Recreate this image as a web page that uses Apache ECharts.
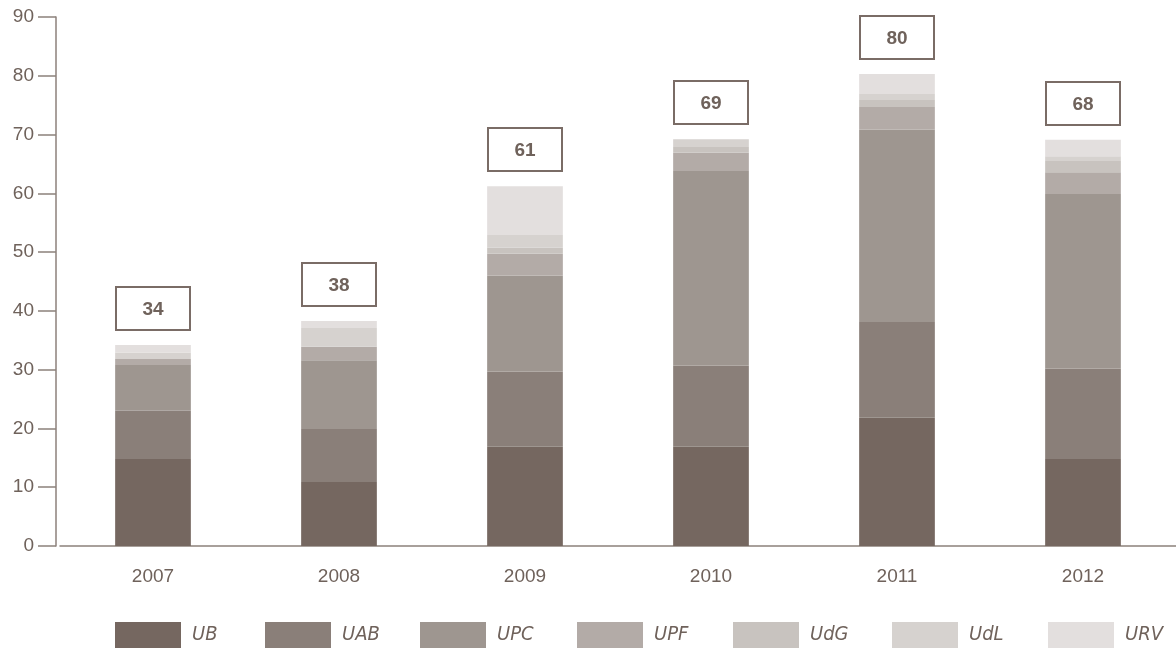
<!DOCTYPE html>
<html>
<head>
<meta charset="utf-8">
<script src="https://cdn.jsdelivr.net/npm/echarts@6/dist/echarts.min.js"></script>
<style>
html,body{margin:0;padding:0;background:#fff;}
#chart{width:1176px;height:648px;}
</style>
</head>
<body>
<div id="chart"></div>
<script>
const categories = ['2007', '2008', '2009', '2010', '2011', '2012'];
const seriesNames = ['UB', 'UAB', 'UPC', 'UPF', 'UdG', 'UdL', 'URV'];
const UB  = [14.8, 10.9, 16.9, 16.9, 21.8, 14.8];
const UAB = [8.2, 9.0, 12.8, 13.8, 16.3, 15.4];
const UPC = [7.8, 11.7, 16.3, 33.1, 32.7, 29.7];
const UPF = [1.0, 2.3, 3.7, 3.1, 3.9, 3.7];
const UdG = [0, 0, 1.1, 1.0, 1.2, 1.9];
const UdL = [1.1, 3.2, 2.1, 1.3, 1.0, 0.8];
const URV = [1.3, 1.2, 8.3, 0, 3.4, 2.8];
const totals = [34, 38, 61, 69, 80, 68];
const yTicks = [0, 10, 20, 30, 40, 50, 60, 70, 80, 90];

const colors = ['#756760', '#8a7f79', '#9e9690', '#b3aba7', '#c8c3bf', '#d6d2cf', '#e3dfde'];
const textColor = '#6f625b';
const axisColor = '#8c817b';
const font = '"Liberation Sans", Arial, Helvetica, sans-serif';
const narrowFont = '"Liberation Sans Narrow", "DejaVu Sans Condensed", "Liberation Sans", sans-serif';

const seriesData = [UB, UAB, UPC, UPF, UdG, UdL, URV];
const barTops = categories.map((c, i) => seriesData.reduce((s, arr) => s + arr[i], 0));

const series = seriesNames.map((name, k) => ({
  name: name,
  type: 'bar',
  stack: 'total',
  barWidth: '40.7%',
  itemStyle: { color: colors[k] },
  emphasis: { disabled: true },
  data: seriesData[k]
}));

series.push({
  name: 'total',
  type: 'custom',
  silent: true,
  z: 5,
  data: barTops.map((v, i) => [i, v, totals[i]]),
  renderItem: function (params, api) {
    const p = api.coord([api.value(0), api.value(1)]);
    const w = 74, h = 43, gap = 15;
    const x = Math.round(p[0] - w / 2), y = Math.round(p[1] - gap - h);
    return {
      type: 'group',
      children: [
        {
          type: 'rect',
          shape: { x: x, y: y, width: w, height: h },
          style: { fill: '#fff', stroke: '#7a6c66', lineWidth: 2 }
        },
        {
          type: 'text',
          style: {
            x: x + w / 2,
            y: y + h / 2 + 1,
            text: String(api.value(2)),
            fill: textColor,
            font: 'bold 19px ' + font,
            textAlign: 'center',
            textVerticalAlign: 'middle'
          }
        }
      ]
    };
  }
});

const legendLefts = [115, 265, 420, 577, 733, 892, 1048];
const legends = seriesNames.map((name, k) => ({
  data: [name],
  left: legendLefts[k],
  top: 622,
  padding: 0,
  icon: 'rect',
  itemWidth: 66,
  itemHeight: 26,
  selectedMode: false,
  textStyle: {
    color: textColor,
    fontSize: 20,
    fontStyle: 'italic',
    fontFamily: narrowFont,
    padding: [0, 0, 0, 6]
  }
}));

const chart = echarts.init(document.getElementById('chart'), null, { renderer: 'canvas' });
chart.setOption({
  animation: false,
  backgroundColor: '#fff',
  grid: { left: 60, right: -3, top: 17, bottom: 102, containLabel: false },
  xAxis: {
    type: 'category',
    data: categories,
    axisLine: { show: true, lineStyle: { color: axisColor, width: 1.5 } },
    axisTick: { show: false },
    axisLabel: { color: textColor, fontSize: 19, fontFamily: font, margin: 21 }
  },
  yAxis: {
    type: 'value',
    min: yTicks[0],
    max: yTicks[yTicks.length - 1],
    interval: 10,
    offset: 4,
    splitLine: { show: false },
    axisLine: { show: true, lineStyle: { color: axisColor, width: 1.5 } },
    axisTick: { show: true, length: 18, lineStyle: { color: axisColor, width: 1.5 } },
    axisLabel: { color: textColor, fontSize: 19, fontFamily: font, margin: 22 }
  },
  legend: legends,
  series: series
});
</script>
</body>
</html>
